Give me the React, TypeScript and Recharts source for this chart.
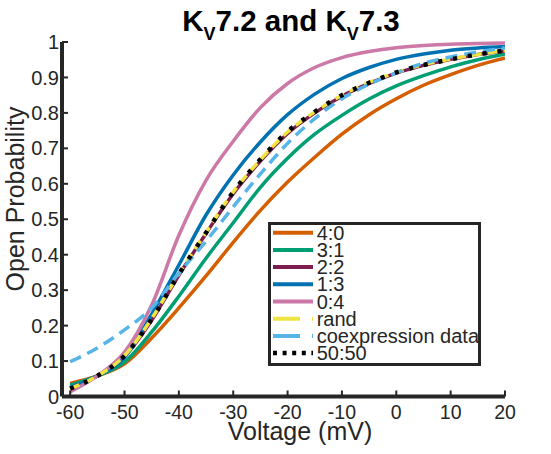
import React from 'react';
import { LineChart, Line, XAxis, YAxis, Legend } from 'recharts';

// Voltage steps (mV) and open probability
const VOLTAGE = [-60, -55, -50, -45, -40, -35, -30, -25, -20, -15, -10, -5, 0, 5, 10, 15, 20];

const RATIO_4_0 = [0.037, 0.058, 0.092, 0.165, 0.25, 0.34, 0.435, 0.525, 0.605, 0.675, 0.74, 0.795, 0.84, 0.878, 0.908, 0.934, 0.955];
const RATIO_3_1 = [0.032, 0.058, 0.097, 0.182, 0.283, 0.39, 0.49, 0.59, 0.672, 0.74, 0.793, 0.839, 0.876, 0.905, 0.93, 0.95, 0.966];
const RATIO_2_2 = [0.024, 0.058, 0.113, 0.215, 0.342, 0.46, 0.572, 0.664, 0.742, 0.8, 0.847, 0.883, 0.912, 0.934, 0.951, 0.965, 0.975];
const RATIO_1_3 = [0.026, 0.058, 0.11, 0.232, 0.371, 0.512, 0.625, 0.718, 0.795, 0.853, 0.897, 0.928, 0.951, 0.966, 0.977, 0.983, 0.987];
const RATIO_0_4 = [0.013, 0.058, 0.125, 0.258, 0.455, 0.61, 0.72, 0.815, 0.883, 0.928, 0.956, 0.973, 0.984, 0.99, 0.994, 0.996, 0.997];
const RAND = [0.022, 0.058, 0.115, 0.22, 0.346, 0.463, 0.577, 0.668, 0.746, 0.803, 0.85, 0.886, 0.914, 0.936, 0.952, 0.965, 0.976];
const COEXPRESSION = [0.098, 0.137, 0.188, 0.25, 0.348, 0.438, 0.535, 0.628, 0.714, 0.784, 0.84, 0.881, 0.913, 0.94, 0.958, 0.972, 0.983];
const FIFTY_FIFTY = [0.022, 0.058, 0.115, 0.218, 0.345, 0.462, 0.577, 0.669, 0.747, 0.803, 0.85, 0.885, 0.914, 0.935, 0.951, 0.965, 0.976];

const X_TICKS = [-60, -50, -40, -30, -20, -10, 0, 10, 20];
const Y_TICKS = [0, 0.1, 0.2, 0.3, 0.4, 0.5, 0.6, 0.7, 0.8, 0.9, 1];

const FONT = '"Liberation Sans", Arial, sans-serif';
const INK = '#262626';

interface SeriesDef {
  key: string;
  name: string;
  color: string;
  width: number;
  dash?: string;
  legendDash?: string;
}

const SERIES: SeriesDef[] = [
  { key: 'r40', name: '4:0', color: '#D55E00', width: 3.5 },
  { key: 'r31', name: '3:1', color: '#009E73', width: 3.5 },
  { key: 'r22', name: '2:2', color: '#7E1E50', width: 3.5 },
  { key: 'r13', name: '1:3', color: '#0072B2', width: 3.5 },
  { key: 'r04', name: '0:4', color: '#CC79A7', width: 3.5 },
  { key: 'rand', name: 'rand', color: '#F0E442', width: 3.5, dash: '10 6', legendDash: '27 12' },
  { key: 'coex', name: 'coexpression data', color: '#56B4E9', width: 3.5, dash: '12 7', legendDash: '27 12' },
  { key: 'fifty', name: '50:50', color: '#000000', width: 4.5, dash: '4 11', legendDash: '4 5.6' },
];

const chartData = VOLTAGE.map((v, i) => ({
  v,
  r40: RATIO_4_0[i],
  r31: RATIO_3_1[i],
  r22: RATIO_2_2[i],
  r13: RATIO_1_3[i],
  r04: RATIO_0_4[i],
  rand: RAND[i],
  coex: COEXPRESSION[i],
  fifty: FIFTY_FIFTY[i],
}));

const LegendBox = () => (
  <svg width={213} height={144} style={{ display: 'block' }}>
    <rect x={1.5} y={1.5} width={210} height={141} fill="#fff" stroke={INK} strokeWidth={3} />
    {SERIES.map((s, i) => {
      const cy = 10.7 + 17.2 * i;
      return (
        <g key={s.key}>
          <line
            x1={5}
            x2={45}
            y1={cy}
            y2={cy}
            stroke={s.color}
            strokeWidth={s.key === 'fifty' ? 4.5 : 4}
            strokeDasharray={s.legendDash}
          />
          <text x={48.7} y={cy + 7} fontSize={20} fontFamily={FONT} fill={INK}>
            {s.name}
          </text>
        </g>
      );
    })}
  </svg>
);

const App: React.FC = () => {
  return (
    <div style={{ position: 'absolute', left: 0, top: 0, width: 551, height: 454, background: '#fff' }}>
      <LineChart
        width={551}
        height={454}
        data={chartData}
        margin={{ top: 42, right: 46, left: 0, bottom: 27.5 }}
      >
        <XAxis
          dataKey="v"
          type="number"
          domain={[-61.5, 20]}
          ticks={X_TICKS}
          allowDataOverflow
          height={30}
          axisLine={{ stroke: INK, strokeWidth: 4 }}
          tickLine={{ stroke: INK, strokeWidth: 2 }}
          tickSize={-6}
          tickMargin={15}
          tick={{ fontSize: 19.5, fill: INK, fontFamily: FONT }}
          interval={0}
        />
        <YAxis
          type="number"
          domain={[0, 1]}
          ticks={Y_TICKS}
          width={62}
          axisLine={{ stroke: INK, strokeWidth: 4 }}
          tickLine={{ stroke: INK, strokeWidth: 2 }}
          tickSize={-6}
          tickMargin={9}
          tick={{ fontSize: 20, fill: INK, fontFamily: FONT }}
          interval={0}
        />
        {SERIES.map((s) => (
          <Line
            key={s.key}
            dataKey={s.key}
            name={s.name}
            type="monotone"
            stroke={s.color}
            strokeWidth={s.width}
            strokeDasharray={s.dash}
            strokeLinecap="butt"
            dot={false}
            activeDot={false}
            isAnimationActive={false}
          />
        ))}
        <Legend
          layout="vertical"
          align="center"
          verticalAlign="middle"
          wrapperStyle={{ position: 'absolute', left: 268, top: 222, width: 213, height: 144 }}
          content={() => <LegendBox />}
        />
      </LineChart>
      <svg
        width={551}
        height={454}
        style={{ position: 'absolute', left: 0, top: 0, pointerEvents: 'none' }}
      >
        <text x={291} y={31} textAnchor="middle" fontSize={29.5} fontWeight="bold" fontFamily={FONT} fill="#000">
          K
          <tspan fontSize={18} dy={9}>V</tspan>
          <tspan dy={-9}>7.2 and K</tspan>
          <tspan fontSize={18} dy={9}>V</tspan>
          <tspan dy={-9}>7.3</tspan>
        </text>
        <text x={300} y={439.5} textAnchor="middle" fontSize={25} fontFamily={FONT} fill={INK}>
          Voltage (mV)
        </text>
        <text
          transform="translate(24,199) rotate(-90)"
          textAnchor="middle"
          fontSize={25}
          fontFamily={FONT}
          fill={INK}
        >
          Open Probability
        </text>
      </svg>
    </div>
  );
};

export default App;
